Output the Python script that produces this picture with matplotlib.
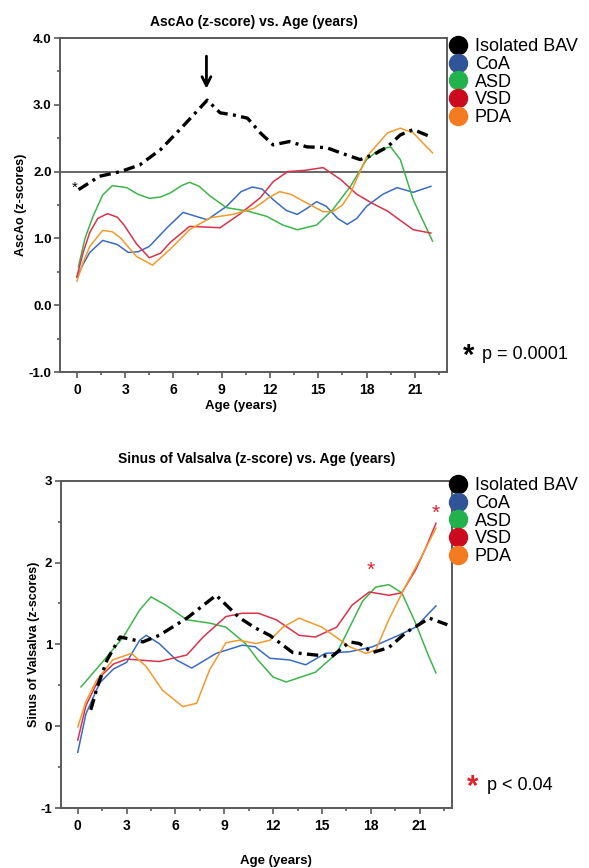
# -*- coding: utf-8 -*-

import matplotlib
matplotlib.use("Agg")
import matplotlib.pyplot as plt
from matplotlib.lines import Line2D
from matplotlib.ticker import MultipleLocator, FormatStrFormatter

plt.rcParams["font.family"] = ["Liberation Sans", "DejaVu Sans"]
plt.rcParams["axes.unicode_minus"] = False

GROUP_NAMES = ["Isolated BAV", "CoA", "ASD", "VSD", "PDA"]
LINE_COLORS = ["#000000", "#3a6cc4", "#3db54a", "#d9334a", "#f39a2e"]
LEGEND_COLORS = ["#000000", "#2f5597", "#21b24b", "#cc0a1e", "#f47b20"]

X_TICKS = [0, 3, 6, 9, 12, 15, 18, 21]

# AscAo (z-score), values
asc_bav_age = [0.1, 1.4, 2.7, 3.9, 5.2, 6.4, 8.1, 8.9, 9.7, 10.6, 11.4, 12.2, 13.2, 14.3,
               15.5, 16.4, 17.6, 18.4, 19.3, 20.1, 20.9, 22.0]
asc_bav_z = [1.73, 1.93, 2.0, 2.1, 2.33, 2.63, 3.07, 2.88, 2.85, 2.8, 2.58, 2.4, 2.45, 2.37,
             2.36, 2.28, 2.18, 2.25, 2.37, 2.55, 2.63, 2.52]

asc_coa_age = [0.0, 0.4, 0.8, 1.6, 2.5, 3.2, 3.8, 4.5, 5.6, 6.6, 7.4, 8.1, 9.3, 10.2, 10.9,
               11.5, 12.2, 13.0, 13.7, 14.3, 14.9, 15.5, 16.2, 16.8, 17.4, 18.0, 19.0, 19.9,
               20.9, 22.0]
asc_coa_z = [0.42, 0.62, 0.79, 0.97, 0.91, 0.79, 0.8, 0.88, 1.16, 1.39, 1.33, 1.28, 1.48,
             1.7, 1.77, 1.74, 1.58, 1.42, 1.36, 1.45, 1.55, 1.48, 1.3, 1.21, 1.3, 1.48, 1.66,
             1.76, 1.69, 1.78]

asc_asd_age = [0.1, 0.5, 1.0, 1.6, 2.2, 3.1, 3.8, 4.5, 5.2, 5.8, 6.5, 7.0, 7.6, 8.3, 9.3,
               10.6, 11.8, 12.8, 13.7, 14.9, 15.9, 17.0, 18.0, 18.8, 19.5, 20.1, 20.9, 22.1]
asc_asd_z = [0.58, 1.0, 1.33, 1.65, 1.79, 1.76, 1.66, 1.6, 1.62, 1.68, 1.79, 1.84, 1.78,
             1.63, 1.46, 1.41, 1.33, 1.2, 1.13, 1.2, 1.43, 1.78, 2.18, 2.33, 2.37, 2.18, 1.58,
             0.96]

asc_vsd_age = [0.0, 0.4, 0.8, 1.3, 1.9, 2.5, 2.9, 3.7, 4.5, 5.2, 5.8, 7.0, 8.0, 8.9, 10.1,
               11.4, 12.2, 13.1, 14.2, 15.3, 16.4, 17.4, 18.4, 19.3, 20.1, 20.9, 22.0]
asc_vsd_z = [0.43, 0.8, 1.09, 1.3, 1.37, 1.32, 1.21, 0.92, 0.71, 0.78, 0.94, 1.18, 1.17,
             1.16, 1.36, 1.61, 1.85, 2.0, 2.02, 2.06, 1.88, 1.66, 1.52, 1.41, 1.27, 1.13, 1.08]

asc_pda_age = [0.0, 0.4, 0.8, 1.6, 2.2, 2.7, 3.7, 4.7, 5.8, 7.0, 8.3, 9.7, 11.0, 12.0, 12.6,
               13.3, 13.9, 15.3, 15.9, 16.5, 17.0, 18.0, 19.3, 20.1, 20.9, 22.1]
asc_pda_z = [0.36, 0.65, 0.88, 1.12, 1.1, 1.01, 0.73, 0.6, 0.84, 1.13, 1.31, 1.36, 1.45,
             1.62, 1.7, 1.66, 1.58, 1.4, 1.4, 1.5, 1.68, 2.22, 2.58, 2.65, 2.58, 2.28]

# Sinus of Valsalva (z-score)
sov_bav_age = [0.8, 1.2, 1.8, 2.6, 4.0, 5.0, 6.7, 8.5, 9.9, 10.9, 11.8, 13.2, 14.6, 15.6,
               16.7, 17.3, 18.1, 19.1, 20.2, 21.6, 22.7]
sov_bav_z = [0.2, 0.48, 0.81, 1.09, 1.03, 1.11, 1.32, 1.6, 1.33, 1.2, 1.11, 0.9, 0.87, 0.85,
             1.03, 1.01, 0.9, 0.96, 1.15, 1.32, 1.24]

sov_coa_age = [0.0, 0.5, 1.35, 2.2, 3.0, 3.8, 4.2, 5.0, 6.05, 7.0, 8.5, 10.1, 10.9, 11.8,
               13.0, 14.0, 15.2, 16.7, 18.1, 19.7, 20.75, 22.0]
sov_coa_z = [-0.32, 0.15, 0.53, 0.7, 0.78, 1.05, 1.11, 1.01, 0.81, 0.71, 0.89, 0.99, 0.97,
             0.83, 0.81, 0.75, 0.89, 0.91, 0.97, 1.11, 1.21, 1.47]

sov_asd_age = [0.2, 1.5, 2.8, 3.8, 4.5, 5.4, 6.7, 8.1, 9.1, 10.3, 11.1, 12.0, 12.8, 14.6,
               15.9, 16.7, 17.5, 18.3, 19.1, 19.9, 20.75, 21.4, 22.0]
sov_asd_z = [0.48, 0.78, 1.09, 1.42, 1.58, 1.48, 1.3, 1.26, 1.21, 1.01, 0.8, 0.6, 0.54, 0.66,
             0.89, 1.21, 1.53, 1.7, 1.73, 1.63, 1.26, 0.93, 0.65]

sov_vsd_age = [0.0, 0.5, 1.35, 2.2, 3.0, 5.0, 6.7, 7.7, 9.1, 10.1, 11.1, 12.2, 13.6, 14.6,
               15.9, 16.85, 17.9, 19.1, 19.9, 20.75, 21.4, 22.0]
sov_vsd_z = [-0.17, 0.25, 0.6, 0.76, 0.82, 0.79, 0.87, 1.09, 1.34, 1.38, 1.38, 1.3, 1.11,
             1.09, 1.21, 1.48, 1.64, 1.6, 1.63, 1.91, 2.19, 2.48]

sov_pda_age = [0.0, 0.5, 1.15, 2.15, 3.3, 4.2, 5.2, 6.45, 7.3, 8.1, 9.1, 9.9, 10.95, 11.8,
               12.6, 13.6, 15.0, 16.7, 17.7, 18.3, 19.1, 20.1, 21.1, 22.0]
sov_pda_z = [-0.01, 0.3, 0.56, 0.81, 0.89, 0.73, 0.44, 0.24, 0.28, 0.69, 1.02, 1.05, 1.01,
             1.05, 1.21, 1.32, 1.21, 0.97, 0.89, 0.93, 1.3, 1.7, 2.07, 2.42]

# significance markers in the lower panel
sov_star_age = [18.0, 22.0]
sov_star_z = [1.9, 2.6]

SPINE_COLOR = "#5a5a5a"
BAV_STYLE = (0, (3.4, 1.6, 0.9, 1.6))


def style_axes(ax, y_ticks, y_fmt):
    ax.set_xlim(-1.05, 23.0)
    ax.set_xticks(X_TICKS)
    ax.xaxis.set_minor_locator(MultipleLocator(1.5))
    ax.set_yticks(y_ticks)
    ax.yaxis.set_minor_locator(MultipleLocator(0.5))
    ax.yaxis.set_major_formatter(FormatStrFormatter(y_fmt))
    for side in ["left", "right", "top", "bottom"]:
        ax.spines[side].set_color(SPINE_COLOR)
        ax.spines[side].set_linewidth(1.4)
    ax.tick_params(which="both", direction="out", color=SPINE_COLOR, width=1.2)
    ax.tick_params(which="major", length=4)
    ax.tick_params(which="minor", length=2.5)
    ax.tick_params(axis="x", which="major", labelsize=10, pad=4)
    ax.tick_params(axis="y", which="major", labelsize=9.5, pad=2)
    for lbl in ax.get_xticklabels() + ax.get_yticklabels():
        lbl.set_fontweight("bold")
    ax.tick_params(which="both", right=False, top=False)


def draw_series(ax, series):
    for i in range(len(series)):
        age, z = series[i]
        if i == 0:
            ax.plot(age, z, color=LINE_COLORS[0], lw=2.4, linestyle=BAV_STYLE, zorder=5)
        else:
            ax.plot(age, z, color=LINE_COLORS[i], lw=1.1, zorder=3)


def add_legend(fig, y_top):
    handles = []
    for i in range(len(GROUP_NAMES)):
        handles.append(Line2D([], [], linestyle="none", marker="o", markersize=13,
                              markerfacecolor=LEGEND_COLORS[i],
                              markeredgecolor=LEGEND_COLORS[i]))
    fig.legend(handles, GROUP_NAMES, loc="upper left", bbox_to_anchor=(0.757, y_top),
               frameon=False, fontsize=13, handlelength=0.9, handletextpad=0.5,
               labelspacing=0.04, borderpad=0.2, borderaxespad=0.0)


fig = plt.figure(figsize=(5.89, 8.68), dpi=100)

# ---- upper panel: AscAo
ax1 = fig.add_axes([0.1019, 0.5714, 0.6570, 0.3848])
draw_series(ax1, [(asc_bav_age, asc_bav_z), (asc_coa_age, asc_coa_z),
                  (asc_asd_age, asc_asd_z), (asc_vsd_age, asc_vsd_z),
                  (asc_pda_age, asc_pda_z)])
ax1.axhline(2.0, color=SPINE_COLOR, lw=1.3, zorder=2)
ax1.set_ylim(-1.0, 4.0)
style_axes(ax1, [-1.0, 0.0, 1.0, 2.0, 3.0, 4.0], "%.1f")
ax1.annotate("", xy=(8.05, 3.2), xytext=(8.05, 3.77),
             arrowprops=dict(arrowstyle="->", color="black", lw=2.0,
                             mutation_scale=16))
ax1.text(asc_bav_age[0] - 0.05, asc_bav_z[0] + 0.03, "*", fontsize=11, ha="right",
         va="center", color="black")
ax1.set_title("AscAo (z-score) vs. Age (years)", fontsize=10, fontweight="bold", pad=9)
ax1.set_xlabel("Age (years)", fontsize=9.5, fontweight="bold", labelpad=2, x=0.468)
ax1.set_ylabel("AscAo (z-scores)", fontsize=9, fontweight="bold", labelpad=1)
add_legend(fig, 0.960)
fig.text(0.795, 0.5905, "*", fontsize=21, fontweight="bold", color="black",
         ha="center", va="center")
fig.text(0.818, 0.5915, "p = 0.0001", fontsize=13, ha="left", va="center")

# ---- lower panel: Sinus of Valsalva
ax2 = fig.add_axes([0.1030, 0.0691, 0.6648, 0.3771])
draw_series(ax2, [(sov_bav_age, sov_bav_z), (sov_coa_age, sov_coa_z),
                  (sov_asd_age, sov_asd_z), (sov_vsd_age, sov_vsd_z),
                  (sov_pda_age, sov_pda_z)])
ax2.set_ylim(-1.0, 3.0)
style_axes(ax2, [-1, 0, 1, 2, 3], "%d")
for i in range(len(sov_star_age)):
    ax2.text(sov_star_age[i], sov_star_z[i], "*", fontsize=15, color="#e0202a",
             ha="center", va="center")
ax2.set_title("Sinus of Valsalva (z-score) vs. Age (years)", fontsize=10,
              fontweight="bold", pad=13)
ax2.set_xlabel("Age (years)", fontsize=9.5, fontweight="bold", labelpad=16, x=0.55)
ax2.set_ylabel("Sinus of Valsalva (z-scores)", fontsize=9, fontweight="bold", labelpad=0.5)
add_legend(fig, 0.4545)
fig.text(0.803, 0.0935, "*", fontsize=21, fontweight="bold", color="#e0202a",
         ha="center", va="center")
fig.text(0.826, 0.0955, "p < 0.04", fontsize=13, ha="left", va="center")

fig.savefig("out.png", dpi=100)
